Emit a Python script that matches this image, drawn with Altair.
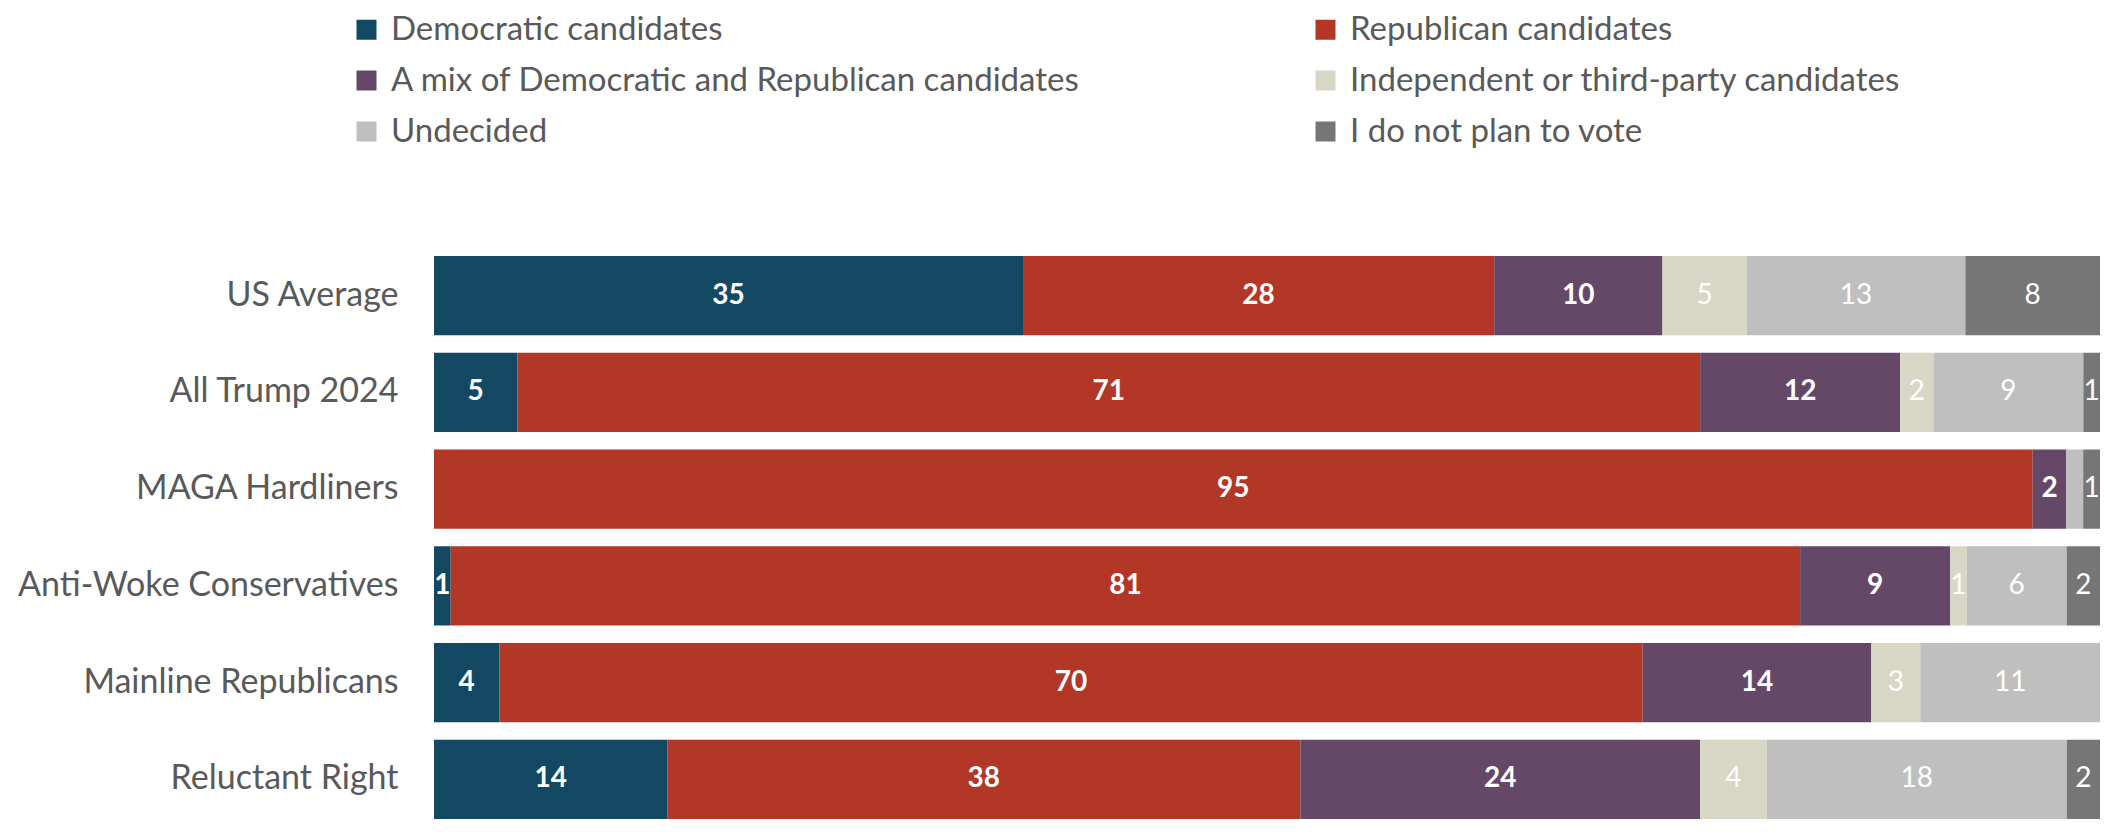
import altair as alt
import pandas as pd

groups = ["US Average", "All Trump 2024", "MAGA Hardliners",
          "Anti-Woke Conservatives", "Mainline Republicans", "Reluctant Right"]
responses = ["Democratic candidates", "Republican candidates",
             "A mix of Democratic and Republican candidates",
             "Independent or third-party candidates", "Undecided",
             "I do not plan to vote"]
colors = ["#124862", "#B33727", "#654867", "#D8D6C4", "#BFBFBF", "#767676"]

dem = [35, 5, 0, 1, 4, 14]
rep = [28, 71, 95, 81, 70, 38]
mix = [10, 12, 2, 9, 14, 24]
ind = [5, 2, 0, 1, 3, 4]
und = [13, 9, 1, 6, 11, 18]
nov = [8, 1, 1, 2, 0, 2]
hidden_labels = [("MAGA Hardliners", "Undecided")]

series = [dem, rep, mix, ind, und, nov]
rows = []
for gi, g in enumerate(groups):
    for ri, r in enumerate(responses):
        v = series[ri][gi]
        lab = str(v) if v > 0 and (g, r) not in hidden_labels else ""
        rows.append({"group": g, "response": r, "order": ri, "value": v, "label": lab})
df = pd.DataFrame(rows)

FONT = "Lato"
yscale = alt.Scale(domain=groups, paddingInner=0.18, paddingOuter=0)
yenc = alt.Y("group:N", sort=groups, scale=yscale,
             axis=alt.Axis(title=None, ticks=False, domain=False, labelFont=FONT,
                           labelFontSize=34, labelColor="#595959", labelPadding=36,
                           labelLimit=0))

base = alt.Chart(df)

bars = base.mark_bar().encode(
    y=yenc,
    x=alt.X("value:Q", stack="normalize", axis=None,
            scale=alt.Scale(domain=[0, 1], nice=False)),
    color=alt.Color("response:N", sort=responses,
                    scale=alt.Scale(domain=responses, range=colors),
                    legend=alt.Legend(title=None, orient="none", legendX=-84, legendY=-243,
                                      direction="horizontal", columns=2,
                                      symbolType="square", symbolSize=400,
                                      symbolStrokeWidth=0, labelFont=FONT, labelFontSize=33,
                                      labelColor="#595959", labelOffset=8, rowPadding=17,
                                      columnPadding=228, padding=0, labelLimit=0)),
    order=alt.Order("order:Q"),
)

stacked = base.transform_stack(
    stack="value", groupby=["group"], as_=["v0", "v1"], offset="normalize",
    sort=[alt.SortField("order", "ascending")]
).transform_calculate(
    mid="(datum.v0 + datum.v1) / 2"
).transform_filter(
    "datum.label != ''"
)

text_enc = dict(
    y=alt.Y("group:N", sort=groups, scale=yscale),
    x=alt.X("mid:Q", scale=alt.Scale(domain=[0, 1], nice=False)),
    text="label:N",
)

text_bold = stacked.transform_filter("datum.order < 3").mark_text(
    color="white", font=FONT, fontSize=28, fontWeight="bold").encode(**text_enc)
text_reg = stacked.transform_filter("datum.order >= 3").mark_text(
    color="white", font=FONT, fontSize=28, fontWeight="normal").encode(**text_enc)

chart = alt.layer(bars, text_bold, text_reg).properties(
    width=1666, height=563,
    autosize=alt.AutoSizeParams(type="none"),
    padding={"left": 426, "top": 248, "right": 0, "bottom": 0},
).configure_view(stroke=None)

chart.save("out.html", embed_options={"renderer": "svg", "actions": False})
